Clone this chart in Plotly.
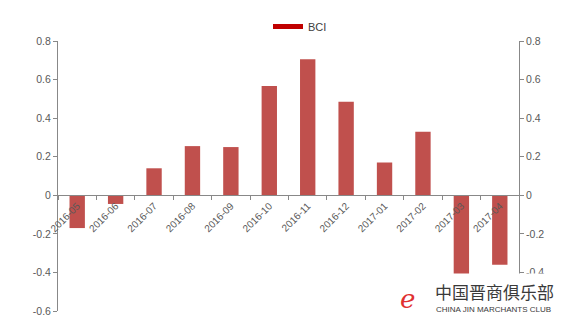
import plotly.graph_objects as go

categories = ["2016-05", "2016-06", "2016-07", "2016-08", "2016-09", "2016-10",
              "2016-11", "2016-12", "2017-01", "2017-02", "2017-03", "2017-04"]
bci = [-0.17, -0.045, 0.14, 0.255, 0.25, 0.567, 0.706, 0.485, 0.17, 0.33, -0.42, -0.36]
y_ticks = [-0.6, -0.4, -0.2, 0, 0.2, 0.4, 0.6, 0.8]
y_ticktext = ["-0.6", "-0.4", "-0.2", "0", "0.2", "0.4", "0.6", "0.8"]

YMIN, YMAX = -0.6, 0.8
axis_color = "#888888"
font_color = "#595959"

fig = go.Figure()
fig.add_trace(go.Bar(x=categories, y=bci, marker=dict(color="#C0504D", line=dict(width=0)),
                     width=0.4, showlegend=False, name="BCI"))
fig.add_trace(go.Scatter(x=[categories[0]], y=[None], mode="lines", name="BCI",
                         line=dict(color="#C00000", width=5), yaxis="y2"))

fig.update_layout(
    width=564, height=331,
    margin=dict(l=58, r=45, t=30, b=20),
    paper_bgcolor="white", plot_bgcolor="white",
    font=dict(family="Liberation Sans, Arial, sans-serif", size=10, color=font_color),
    xaxis=dict(type="category", anchor="free", position=(0 - YMIN) / (YMAX - YMIN),
               showline=True, linecolor=axis_color, linewidth=1,
               ticks="outside", ticklen=4, tickcolor=axis_color, tickson="boundaries",
               tickangle=-45, showgrid=False, zeroline=False,
               tickfont=dict(size=10, color=font_color)),
    yaxis=dict(range=[YMIN, YMAX], tickvals=y_ticks, ticktext=y_ticktext,
               showline=True, linecolor=axis_color, linewidth=1,
               ticks="outside", ticklen=4, tickcolor=axis_color,
               showgrid=False, zeroline=False, tickfont=dict(size=10.5, color=font_color)),
    yaxis2=dict(range=[YMIN, YMAX], tickvals=y_ticks, ticktext=y_ticktext,
                overlaying="y", side="right",
                showline=True, linecolor=axis_color, linewidth=1,
                ticks="outside", ticklen=4, tickcolor=axis_color,
                showgrid=False, zeroline=False, tickfont=dict(size=10.5, color=font_color)),
    legend=dict(orientation="h", x=0.525, xanchor="center", y=1.0, yanchor="bottom",
                font=dict(size=11, color="#404040"), bgcolor="rgba(0,0,0,0)"),
    bargap=0.6,
)

# watermark box
fig.add_shape(type="rect", xref="paper", yref="paper",
              x0=(392 - 58) / (564 - 58 - 45), x1=(556 - 58) / (564 - 58 - 45),
              y0=-(318 - 311) / 281, y1=(311 - 272) / 281,
              fillcolor="white", line=dict(width=0), layer="above")
fig.add_annotation(xref="paper", yref="paper", x=(556 - 58) / 461, y=(311 - 291) / 281,
                   xanchor="right", yanchor="middle", showarrow=False,
                   text="中国晋商俱乐部",
                   font=dict(family="Noto Sans CJK SC", size=17, color="#3a3a3a"))
fig.add_annotation(xref="paper", yref="paper", x=(553 - 58) / 461, y=(311 - 309) / 281,
                   xanchor="right", yanchor="middle", showarrow=False,
                   text="CHINA JIN MARCHANTS CLUB",
                   font=dict(family="Liberation Sans", size=8, color="#3a3a3a"))
fig.add_annotation(xref="paper", yref="paper", x=(407 - 58) / 461, y=(311 - 298) / 281,
                   xanchor="center", yanchor="middle", showarrow=False,
                   text="<i>e</i>",
                   font=dict(family="DejaVu Serif", size=26, color="#e03030"))

fig.write_html("out.html")
